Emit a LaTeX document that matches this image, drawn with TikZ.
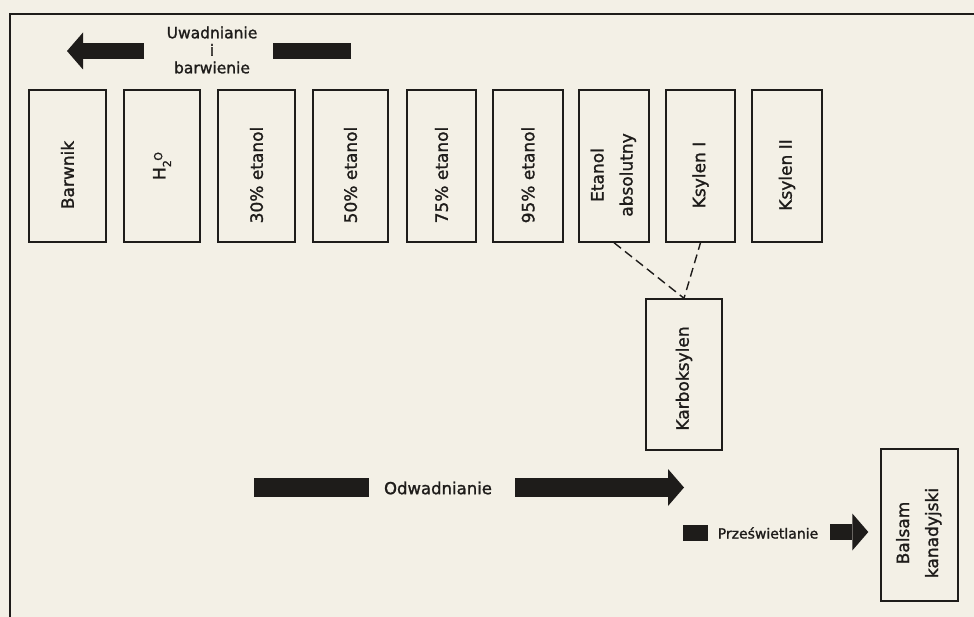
\documentclass[tikz,border=0pt]{standalone}
\usepackage{fontspec}
\setmainfont[FakeBold=1.4]{DejaVu Sans}
\usetikzlibrary{arrows.meta}
\definecolor{paper}{HTML}{F3F0E6}
\definecolor{ink}{HTML}{1E1C1A}
\newcommand{\htwoo}{H\raisebox{-0.6ex}{\fontsize{11}{11}\selectfont 2}\kern-0.5pt\raisebox{0.35ex}{\fontsize{11}{11}\selectfont O}\kern-18pt}
\newcommand{\twolines}[2]{\begin{tabular}{@{}c@{}}#1\\[9pt]#2\end{tabular}}
\tikzset{
  probe/.style={draw=ink, line width=1.4pt, inner sep=0pt, minimum height=152pt, text=ink, font=\fontsize{17}{20}\selectfont},
  fatbar/.style={ink, line width=16pt},
  fatarrow/.style={ink, line width=16pt, -{Triangle[width=37pt,length=16pt,line width=0pt]}},
  stage/.style={inner sep=0pt, text=ink, font=\fontsize{15.5}{17.5}\selectfont},
}

\begin{document}
\begin{tikzpicture}[x=1pt, y=-1pt]
\fill[paper] (0,0) rectangle (974,617);
\useasboundingbox (0,0) rectangle (974,617);
% frame
\draw[ink, line width=1.6pt] (10,617) -- (10,14) -- (974,14);

% baths, top row
\foreach \x/\w/\n/\lab in {67.5/77/barw/Barwnik, 162/76/woda/\htwoo, 256.5/77/et30/30\% etanol, 350.5/75/et50/50\% etanol, 441.5/69/et75/75\% etanol, 528/70/et95/95\% etanol, 614/70/etabs/\twolines{Etanol}{absolutny}, 700.5/69/ks1/Ksylen I, 787/70/ks2/Ksylen II}
  \node[probe, minimum width=\w] (\n) at (\x,166) {\rotatebox{90}{\lab\kern18pt}};

% baths, lower
\node[probe, minimum width=76, minimum height=151] (karb) at (684,374.5) {\rotatebox{90}{Karboksylen\kern8pt}};
\node[probe, minimum width=77] (balsam) at (919.5,525) {\rotatebox{90}{\twolines{Balsam}{kanadyjski}\kern16pt}};

\draw[ink, line width=1.4pt, dash pattern=on 9pt off 5pt] (etabs.south) -- (karb.north) -- (ks1.south);

% stages
\node[stage, align=center] (uwad) at (212,50) {Uwadnianie\\ i\\ barwienie};
\coordinate (uwtail) at (351,51);
\coordinate (uwstop) at (273,51);
\coordinate (uwstart) at (144,51);
\coordinate (uwtip) at (67,51);
\draw[fatbar] (uwtail) -- (uwstop);
\draw[fatarrow] (uwstart) -- (uwtip);

\node[stage, font=\fontsize{16.5}{19}\selectfont] (odw) at (438,488) {Odwadnianie};
\coordinate (odwtail) at (254,487.5);
\coordinate (odwstop) at (369,487.5);
\coordinate (odwstart) at (515,487.5);
\coordinate (odwtip) at (684,487.5);
\draw[fatbar, line width=19pt] (odwtail) -- (odwstop);
\draw[fatarrow, line width=19pt] (odwstart) -- (odwtip);

\node[stage, font=\fontsize{14}{16}\selectfont] (prz) at (768,533) {Prześwietlanie};
\coordinate (prztail) at (683,533);
\coordinate (przstop) at (708,533);
\coordinate (przstart) at (830,532);
\draw[fatbar] (prztail) -- (przstop);
\draw[fatarrow, shorten >=12pt] (przstart) -- (balsam.west |- przstart);
\end{tikzpicture}
\end{document}
